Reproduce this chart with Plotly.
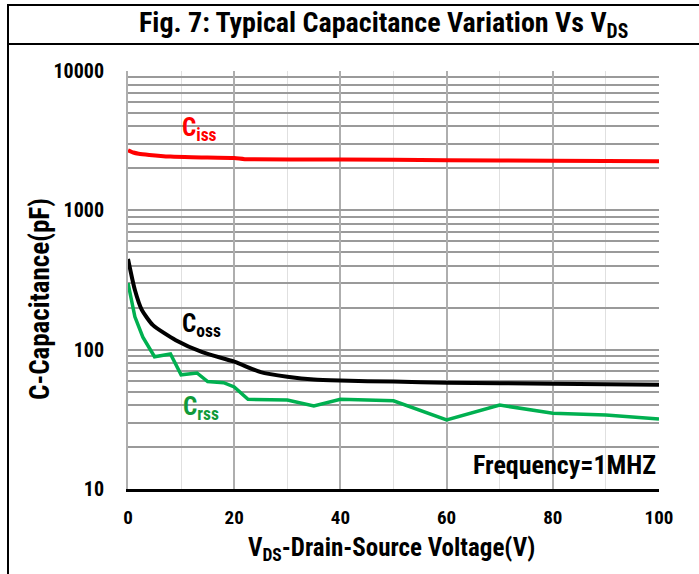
import plotly.graph_objects as go

# ---- data ----
ciss_v = [0, 1, 2, 4, 8, 12, 20, 22, 40, 60, 80, 100]
ciss_c = [2700, 2600, 2550, 2500, 2430, 2400, 2370, 2330, 2320, 2290, 2270, 2250]

coss_v = [0, 1.3, 2.6, 4.7, 9, 14, 20, 25, 30, 35, 40, 50, 60, 80, 100]
coss_c = [448, 268, 193, 150, 117, 96, 82, 69, 64, 61, 60, 59, 58, 57, 56]

crss_v = [0, 1.3, 2.8, 5, 8, 10, 13, 15, 18, 20, 22.6, 30, 35, 40, 50, 60, 70, 80, 90, 100]
crss_c = [301, 172, 123, 89, 93, 66, 68, 59, 58, 54, 44, 43.5, 39.4, 44, 43, 31.3, 40, 35, 34, 31.8]

x_ticks = [0, 20, 40, 60, 80, 100]
y_decades = [10, 100, 1000, 10000]

W, H = 699, 574
L, R, T, B = 128, 40, 71, 85
PW, PH = W - L - R, H - T - B

FONT = "Liberation Sans Narrow, Arial Narrow, Roboto Condensed, DejaVu Sans Condensed, Liberation Sans, sans-serif"

def px_x(p):
    return (p - L) / PW

def px_y(p):
    return (H - B - p) / PH

fig = go.Figure()
fig.add_trace(go.Scatter(x=ciss_v, y=ciss_c, mode="lines", line=dict(color="#FF0000", width=4, shape="spline", smoothing=0.6), showlegend=False))
fig.add_trace(go.Scatter(x=coss_v, y=coss_c, mode="lines", line=dict(color="#000000", width=4, shape="spline", smoothing=0.6), showlegend=False))
fig.add_trace(go.Scatter(x=crss_v, y=crss_c, mode="lines", line=dict(color="#00B050", width=3.5), showlegend=False))

minor_y = [d * m for d in [10, 100, 1000] for m in range(2, 10)]

fig.update_layout(
    width=W, height=H,
    margin=dict(l=L, r=R, t=T, b=B, autoexpand=False),
    paper_bgcolor="white", plot_bgcolor="white",
    font=dict(family=FONT, color="black"),
    xaxis=dict(
        range=[0, 100], tickvals=x_ticks, ticktext=[f"<b>{v}</b>" for v in x_ticks],
        tickfont=dict(size=19, family=FONT), ticks="", ticklabelstandoff=9,
        showgrid=True, gridcolor="#AEAEAE", gridwidth=2, automargin=False,
        minor=dict(dtick=10, showgrid=True, gridcolor="#E0E0E0", gridwidth=1, ticks=""),
        showline=True, linecolor="black", linewidth=3, zeroline=False,
    ),
    yaxis=dict(
        type="log", range=[1, 4], tickvals=y_decades, ticktext=[f"<b>{v}</b>" for v in y_decades],
        tickfont=dict(size=20, family=FONT), ticks="", ticklabelstandoff=18, automargin=False,
        showgrid=True, gridcolor="#9A9A9A", gridwidth=2,
        minor=dict(tickvals=minor_y, showgrid=True, gridcolor="#9A9A9A", gridwidth=2, ticks=""),
        showline=True, linecolor="#AEAEAE", linewidth=2, zeroline=False,
    ),
)

ann = []
ann.append(dict(xref="paper", yref="paper", x=px_x(383), y=px_y(25), text="<b>Fig. 7: Typical Capacitance Variation Vs V<sub>DS</sub></b>",
                showarrow=False, font=dict(size=28, family=FONT), xanchor="center", yanchor="middle"))
ann.append(dict(xref="paper", yref="paper", x=px_x(391), y=px_y(549), text="<b>V<sub>DS</sub>-Drain-Source Voltage(V)</b>",
                showarrow=False, font=dict(size=25, family=FONT), xanchor="center", yanchor="middle"))
ann.append(dict(xref="paper", yref="paper", x=px_x(40), y=px_y(299), text="<b>C-Capacitance(pF)</b>", textangle=-90,
                showarrow=False, font=dict(size=27, family=FONT), xanchor="center", yanchor="middle"))
ann.append(dict(xref="paper", yref="paper", x=px_x(180), y=px_y(129), text="<b>C<sub>iss</sub></b>",
                showarrow=False, font=dict(size=25, family=FONT, color="#FF0000"), xanchor="left", yanchor="middle"))
ann.append(dict(xref="paper", yref="paper", x=px_x(180), y=px_y(325), text="<b>C<sub>oss</sub></b>",
                showarrow=False, font=dict(size=25, family=FONT, color="#000000"), xanchor="left", yanchor="middle"))
ann.append(dict(xref="paper", yref="paper", x=px_x(181), y=px_y(408), text="<b>C<sub>rss</sub></b>",
                showarrow=False, font=dict(size=25, family=FONT, color="#119A3A"), xanchor="left", yanchor="middle"))
ann.append(dict(xref="paper", yref="paper", x=px_x(658), y=px_y(465), text="<b>Frequency=1MHZ</b>",
                showarrow=False, font=dict(size=26, family=FONT), xanchor="right", yanchor="middle"))
fig.update_layout(annotations=ann)

shapes = [
    dict(type="line", xref="paper", yref="paper", x0=px_x(8), x1=px_x(699), y0=px_y(5), y1=px_y(5), line=dict(color="black", width=2)),
    dict(type="line", xref="paper", yref="paper", x0=px_x(8), x1=px_x(699), y0=px_y(44), y1=px_y(44), line=dict(color="black", width=2)),
    dict(type="line", xref="paper", yref="paper", x0=px_x(8), x1=px_x(8), y0=px_y(4), y1=px_y(574), line=dict(color="black", width=2)),
]
fig.update_layout(shapes=shapes)

fig.write_html("out.html", config={"displayModeBar": False},
               post_script="document.body.style.margin='0';")
